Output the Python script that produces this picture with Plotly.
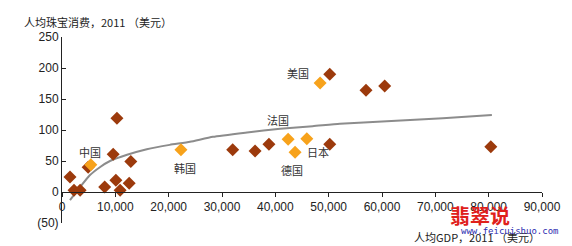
import plotly.graph_objects as go

# Data (per-capita GDP vs per-capita jewelry consumption, 2011, USD)
dark_gdp = [1500, 2250, 3400, 4900, 8000, 9600, 10300, 10100, 10900, 12600, 12900,
            32000, 36200, 38800, 50200, 50200, 57000, 60500, 80400]
dark_jew = [24, 3, 3, 40, 8, 61, 119, 19, 3, 14, 49,
            68, 66, 77, 77, 190, 164, 171, 73]

hl_names = ["中国", "韩国", "法国", "德国", "日本", "美国"]
hl_gdp = [5400, 22300, 42400, 43700, 45900, 48400]
hl_jew = [44, 68, 85, 64, 86, 176]

trend_gdp = [1500, 3400, 5200, 7100, 9000, 12200, 15900, 20200, 24000, 28300,
             34700, 40900, 47000, 52100, 60900, 71400, 80600]
trend_jew = [-13, 8, 27, 40, 50, 60, 69, 76, 81, 89,
             96, 102, 106, 110, 114, 119, 124]

label_text = ["中国", "韩国", "法国", "美国", "德国", "日本"]
label_x = [5200, 23000, 40500, 44200, 43100, 48000]
label_y = [65, 39, 116, 192, 35, 65]

y_ticks = [-50, 0, 50, 100, 150, 200, 250]
y_ticktext = ["(50)", "0", "50", "100", "150", "200", "250"]
x_ticks = [0, 10000, 20000, 30000, 40000, 50000, 60000, 70000, 80000, 90000]
x_ticktext = ["0", "10,000", "20,000", "30,000", "40,000", "50,000",
              "60,000", "70,000", "80,000", "90,000"]

DARK = "#9C3A0C"
ORANGE = "#F7A21B"
CJK = "Noto Sans CJK SC"
NUM = "Liberation Sans, Arial"

fig = go.Figure()
fig.add_trace(go.Scatter(x=trend_gdp, y=trend_jew, mode="lines",
                         line=dict(color="#8C8C8C", width=2, shape="spline", smoothing=0.5),
                         hoverinfo="skip", showlegend=False))
fig.add_trace(go.Scatter(x=dark_gdp, y=dark_jew, mode="markers",
                         marker=dict(symbol="diamond", size=10, color=DARK),
                         showlegend=False))
fig.add_trace(go.Scatter(x=hl_gdp, y=hl_jew, mode="markers", text=hl_names,
                         marker=dict(symbol="diamond", size=10, color=ORANGE),
                         showlegend=False))

for t, x, y in zip(label_text, label_x, label_y):
    fig.add_annotation(x=x, y=y, text=t, showarrow=False,
                       font=dict(family=CJK, size=11, color="#333333"))

fig.add_annotation(xref="paper", yref="paper", x=-0.083, y=1.025, xanchor="left",
                   yanchor="bottom", showarrow=False,
                   text="人均珠宝消费，2011 （美元）",
                   font=dict(family=CJK, size=11, color="#222222"))
fig.add_annotation(xref="paper", yref="paper", x=0.73, y=-0.075, xanchor="left",
                   yanchor="middle", showarrow=False,
                   text="人均GDP，2011 （美元）",
                   font=dict(family=CJK, size=11, color="#222222"))
fig.add_annotation(xref="paper", yref="paper", x=0.87, y=0.04, xanchor="center",
                   yanchor="middle", showarrow=False, text="<b>翡翠说</b>",
                   font=dict(family=CJK, size=20, color="#E0201B"))
fig.add_annotation(xref="paper", yref="paper", x=1.04, y=-0.043, xanchor="right",
                   yanchor="middle", showarrow=False, text="www.feicuishuo.com",
                   font=dict(family="DejaVu Sans Mono", size=9, color="#2B2BB0"))

fig.update_layout(
    width=572, height=246,
    margin=dict(l=62, r=30, t=37, b=23),
    paper_bgcolor="white", plot_bgcolor="white",
    font=dict(family=NUM, size=12, color="#222222"),
    xaxis=dict(range=[0, 90000], tickvals=x_ticks, ticktext=x_ticktext,
               showgrid=False, zeroline=False, showline=True, linecolor="#222222",
               linewidth=1, ticks="outside", ticklen=4, tickcolor="#222222",
               anchor="free", position=1/6,
               tickfont=dict(family=NUM, size=12, color="#222222")),
    yaxis=dict(range=[-50, 250], tickvals=y_ticks, ticktext=y_ticktext,
               showgrid=False, zeroline=False, showline=True, linecolor="#222222",
               linewidth=1, ticks="inside", ticklen=4, tickcolor="#222222",
               tickfont=dict(family=NUM, size=12, color="#222222")),
)

fig.write_html("out.html")
